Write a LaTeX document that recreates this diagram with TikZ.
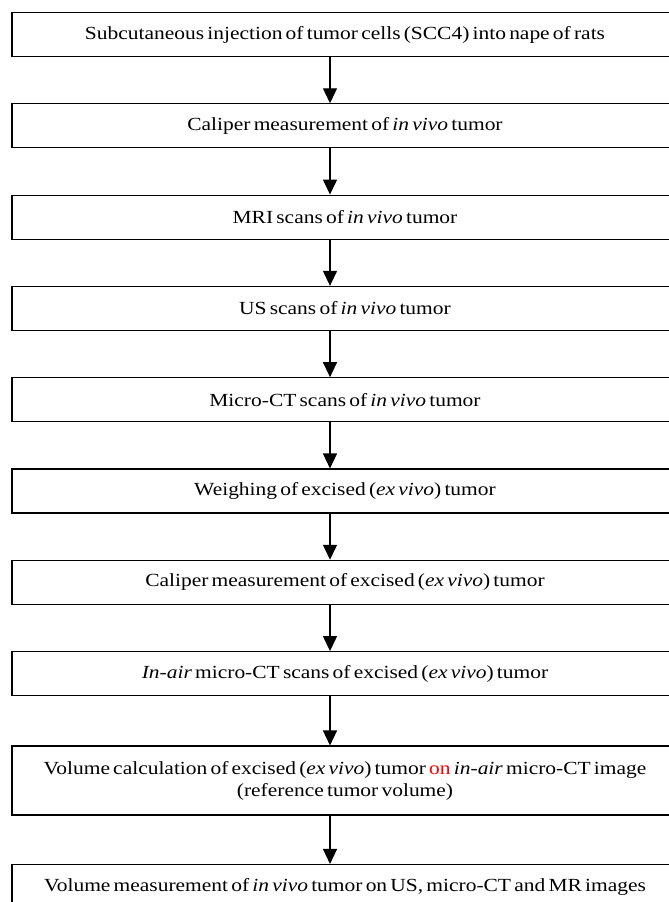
\documentclass[tikz,border=0pt]{standalone}
\usepackage{fontspec}
\setmainfont{Liberation Serif}[FakeStretch=1.16,WordSpace=0.6]
\usetikzlibrary{arrows.meta}
\tikzset{
  stepbox/.style={draw=black, line width=1.1pt, minimum width=666pt, minimum height=44pt,
    inner sep=0pt, align=center, font=\fontsize{18.5}{22}\selectfont},
  arr/.style={line width=1.3pt, -{Triangle[length=15pt,width=14pt]}}
}
\begin{document}
\begin{tikzpicture}[x=1pt,y=-1pt]
\useasboundingbox (0,0) rectangle (669,902);
\clip (0,0) rectangle (669,902);
\fill[white] (0,0) rectangle (669,902);
\node[stepbox] (b1) at (345,34.5) {Subcutaneous injection of tumor cells (SCC4) into nape of rats};
\node[stepbox] (b2) at (345,125.8) {Caliper measurement of \textit{in vivo} tumor};
\node[stepbox] (b3) at (345,217.1) {MRI scans of \textit{in vivo} tumor};
\node[stepbox] (b4) at (345,308.4) {US scans of \textit{in vivo} tumor};
\node[stepbox] (b5) at (345,399.7) {Micro-CT scans of \textit{in vivo} tumor};
\node[stepbox] (b6) at (345,491) {Weighing of excised (\textit{ex vivo}) tumor};
\node[stepbox] (b7) at (345,582.3) {Caliper measurement of excised (\textit{ex vivo}) tumor};
\node[stepbox] (b8) at (345,673.6) {\textit{In-air} micro-CT scans of excised (\textit{ex vivo}) tumor};
\node[stepbox, minimum height=69pt] (b9) at (345,780.5) {Volume calculation of excised (\textit{ex vivo}) tumor \textcolor{red}{on} \textit{in-air} micro-CT image\\(reference tumor volume)};
\node[stepbox] (b10) at (345,886.5) {Volume measurement of \textit{in vivo} tumor on US, micro-CT and MR images};
\foreach \a/\b in {b1/b2,b2/b3,b3/b4,b4/b5,b5/b6,b6/b7,b7/b8,b8/b9,b9/b10}{
  \draw[arr] ([xshift=-15pt]\a.south) -- ([xshift=-15pt]\b.north);
}
\end{tikzpicture}
\end{document}
